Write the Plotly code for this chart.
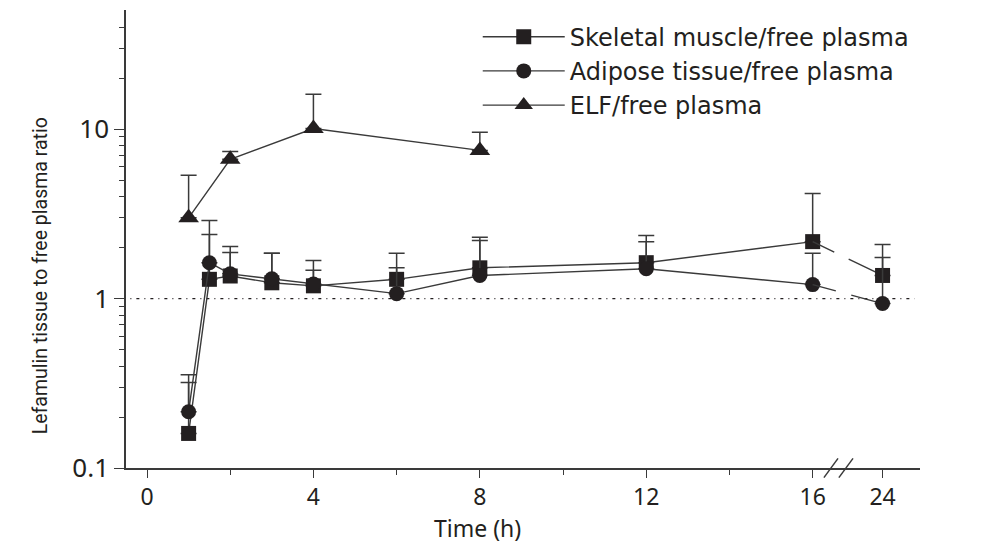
import plotly.graph_objects as go

# Sampling times (h) and tissue / free-plasma ratios (geometric means, upper SD)
times = [1, 1.5, 2, 3, 4, 6, 8, 12, 16, 24]
muscle = [0.16, 1.30, 1.36, 1.24, 1.19, 1.30, 1.52, 1.63, 2.17, 1.37]
muscle_upper = [0.32, 2.39, 1.87, 1.85, 1.47, 1.85, 2.30, 2.36, 4.18, 2.09]
adipose = [0.215, 1.63, 1.40, 1.31, 1.22, 1.07, 1.37, 1.50, 1.21, 0.935]
adipose_upper = [0.355, 2.89, 2.03, 1.85, 1.68, 1.52, 2.20, 2.17, 1.85, 1.75]

elf_times = [1, 2, 4, 8]
elf = [3.0, 6.65, 10.1, 7.5]
elf_upper = [5.35, 7.4, 16.1, 9.6]

REF_RATIO = 1
x_tick_hours = [0, 4, 8, 12, 16, 24]
x_minor_hours = [2, 6, 10, 14]
y_tick_vals = [0.1, 1, 10]
y_tick_text = ["0.1", "1", "10"]

# Broken time axis: hours beyond 16 h are compressed
BREAK_AT = 16
COMPRESS = 0.21


def axis_pos(t):
    return t if t <= BREAK_AT else BREAK_AT + (t - BREAK_AT) * COMPRESS


INK = "#231f20"
LINE = "#3a3a3a"

fig = go.Figure()


def add_series(name, t, v, up, symbol, size):
    xs = [axis_pos(a) for a in t]
    err = [u - m for u, m in zip(up, v)]
    pre = [i for i, a in enumerate(t) if a <= BREAK_AT]
    post = [i for i, a in enumerate(t) if a >= BREAK_AT]
    marker = dict(symbol=symbol, size=size, color=INK, line=dict(width=0))
    ebar = dict(type="data", symmetric=False,
                array=[err[i] for i in pre], arrayminus=[0] * len(pre),
                color=LINE, thickness=1.5, width=8)
    fig.add_trace(go.Scatter(
        x=[xs[i] for i in pre], y=[v[i] for i in pre], name=name,
        mode="lines+markers", line=dict(color=LINE, width=1.4),
        marker=marker, error_y=ebar))
    if len(post) > 1:
        fig.add_trace(go.Scatter(
            x=[xs[i] for i in post], y=[v[i] for i in post],
            mode="lines", line=dict(color=LINE, width=1.4, dash="24px,16px,100px"),
            showlegend=False, hoverinfo="skip"))
        last = post[1:]
        fig.add_trace(go.Scatter(
            x=[xs[i] for i in last], y=[v[i] for i in last],
            mode="markers", marker=marker, showlegend=False,
            error_y=dict(type="data", symmetric=False,
                         array=[err[i] for i in last], arrayminus=[0] * len(last),
                         color=LINE, thickness=1.5, width=8)))


# Reference line at a ratio of 1
fig.add_trace(go.Scatter(
    x=[-0.4, 18.45], y=[REF_RATIO, REF_RATIO], mode="lines",
    line=dict(color=INK, width=1.2, dash="1px,5px,3px,5px"),
    showlegend=False, hoverinfo="skip"))

add_series("Skeletal muscle/free plasma", times, muscle, muscle_upper, "square", 15)
add_series("Adipose tissue/free plasma", times, adipose, adipose_upper, "circle", 15)
add_series("ELF/free plasma", elf_times, elf, elf_upper, "triangle-up", 18)

# Axis break marks
for cx in (16.44, 16.80):
    fig.add_shape(type="line", xref="x", yref="paper",
                  x0=cx - 0.17, x1=cx + 0.17, y0=-0.021, y1=0.021,
                  line=dict(color=LINE, width=1.5))

fig.update_xaxes(
    range=[-0.505, 18.58], showgrid=False, zeroline=False,
    showline=True, linecolor=LINE, linewidth=1.5,
    tickmode="array", tickvals=[axis_pos(t) for t in x_tick_hours],
    ticktext=[str(t) for t in x_tick_hours],
    ticks="outside", ticklen=8, tickwidth=1.3, tickcolor=LINE,
    tickfont=dict(family="Noto Sans", size=23, color=INK),
    minor=dict(tickvals=x_minor_hours, ticks="outside", ticklen=5,
               tickwidth=1.3, tickcolor=LINE, showgrid=False),
)
fig.update_yaxes(
    type="log", range=[-1, 1.704], showgrid=False, zeroline=False,
    showline=True, linecolor=LINE, linewidth=1.5,
    tickmode="array", tickvals=y_tick_vals, ticktext=y_tick_text,
    ticks="outside", ticklen=10, tickwidth=1.3, tickcolor=LINE,
    tickfont=dict(family="Noto Sans", size=26, color=INK),
    minor=dict(tickvals=[k * 0.1 for k in range(2, 10)] + list(range(2, 10)) + [20, 30, 40],
               ticks="outside", ticklen=5, tickwidth=1.3, tickcolor=LINE,
               showgrid=False),
)

fig.add_annotation(text="Time (h)", xref="paper", yref="paper", x=0.443, y=-0.13,
                   xanchor="center", yanchor="middle", showarrow=False,
                   font=dict(family="Noto Sans", size=23, color=INK))
fig.add_annotation(text="Lefamulin tissue to free plasma ratio", xref="paper", yref="paper",
                   x=-0.108, y=0.419, textangle=-90, xanchor="center", yanchor="middle",
                   showarrow=False, font=dict(family="Roboto", size=19.5, color=INK))

fig.update_layout(
    width=997, height=543,
    margin=dict(l=126, r=77, t=10, b=75),
    paper_bgcolor="white", plot_bgcolor="white",
    legend=dict(x=0.443, y=0.99, xanchor="left", yanchor="top",
                itemwidth=82,
                font=dict(family="DejaVu Sans", size=24, color=INK),
                bgcolor="rgba(0,0,0,0)", tracegroupgap=0),
)

fig.write_html("out.html")
